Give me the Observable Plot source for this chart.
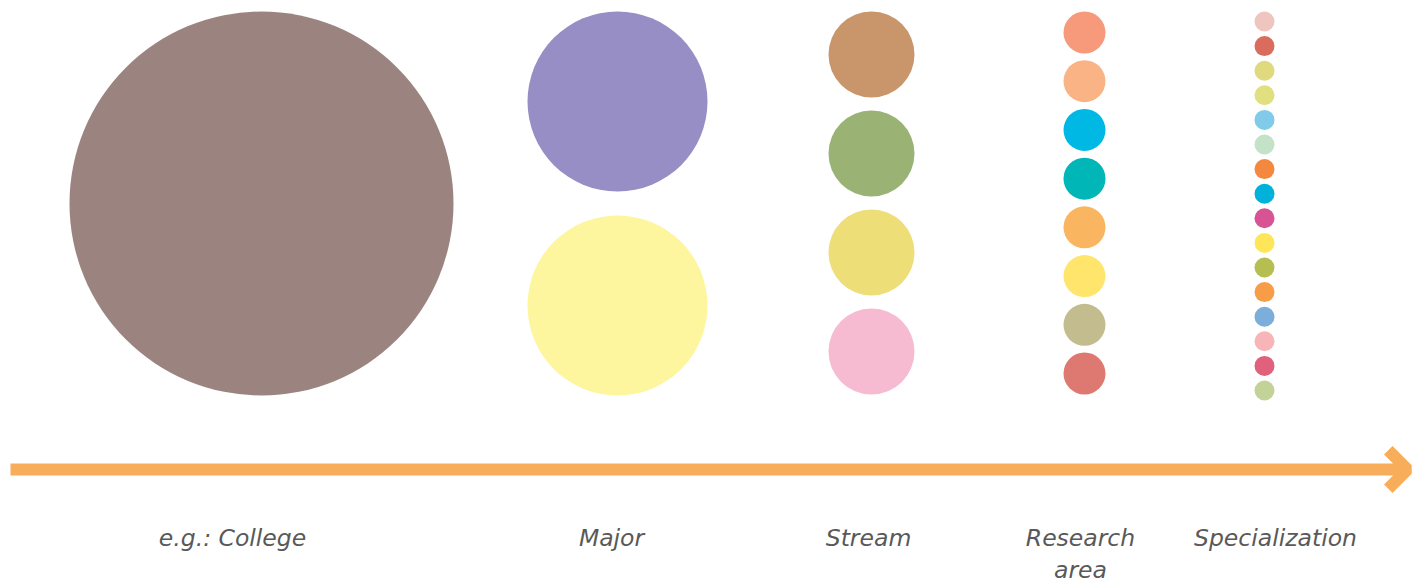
<!DOCTYPE html>
<html>
<head>
<meta charset="utf-8">
<script src="https://cdn.jsdelivr.net/npm/d3@7"></script>
<script src="https://cdn.jsdelivr.net/npm/@observablehq/plot@0.6"></script>
<style>
  html, body { margin: 0; padding: 0; background: #ffffff; }
  #chart { width: 1414px; height: 579px; }
</style>
</head>
<body>
<div id="chart"></div>
<script>
// ---- data ----
const levels = ["e.g.: College", "Major", "Stream", "Research\narea", "Specialization"];
const counts = [1, 2, 4, 8, 16];
const collegeColors = ["#9b8480"];
const majorColors = ["#968ec4", "#fdf69e"];
const streamColors = ["#c9956a", "#9ab375", "#eede77", "#f6bbd0"];
const researchColors = ["#f69a7b", "#fab384", "#00b8e4", "#00b6b6", "#fab561", "#ffe56c", "#c2bc8f", "#dd7971"];
const specializationColors = ["#eec5bf", "#d96c5d", "#dfda7e", "#e0e080", "#7fcbe9", "#c3e2c8", "#f5883f", "#00b2d9",
                              "#d85394", "#ffe55a", "#b6be52", "#f89d47", "#7baeda", "#f8b5b8", "#e0617c", "#c3d398"];
const levelColors = [collegeColors, majorColors, streamColors, researchColors, specializationColors];

// ---- layout (not data) ----
const columnX = [261, 617, 871, 1084, 1264];
const labelX = [232, 611, 868, 1080, 1275];
const radii = [192, 90, 43, 21, 10];
const bandTop = 11, bandBottom = [395, 395, 394, 394, 400];
const labelY = 523;
const arrowY = 469;

const nodes = [];
levels.forEach((lv, li) => {
  const n = counts[li], r = radii[li];
  const y0 = bandTop + r, y1 = bandBottom[li] - r;
  for (let i = 0; i < n; i++) {
    nodes.push({
      level: lv,
      x: columnX[li],
      y: n === 1 ? (y0 + y1) / 2 : y0 + (y1 - y0) * i / (n - 1),
      r,
      color: levelColors[li][i]
    });
  }
});
const labels = levels.map((lv, li) => ({label: lv, x: labelX[li], y: labelY}));

const chart = Plot.plot({
  width: 1414,
  height: 579,
  margin: 0,
  x: {type: "linear", domain: [0, 1414], range: [0, 1414], axis: null},
  y: {type: "linear", domain: [0, 579], range: [0, 579], axis: null},
  r: {type: "identity"},
  style: {background: "#ffffff"},
  marks: [
    Plot.dot(nodes, {x: "x", y: "y", r: "r", fill: "color", stroke: null}),
    Plot.arrow([{x1: 10, x2: 1407, y: arrowY}], {
      x1: "x1", x2: "x2", y1: "y", y2: "y",
      stroke: "#f8ad5a", strokeWidth: 12,
      headLength: 3.4, headAngle: 90,
      strokeLinecap: "butt", strokeLinejoin: "miter"
    }),
    Plot.text(labels, {
      x: "x", y: "y", text: "label",
      fontSize: 23.5, fontStyle: "italic",
      fontFamily: "DejaVu Sans, Verdana, sans-serif",
      fill: "#595959", lineAnchor: "top", lineHeight: 1.36,
      textAnchor: "middle"
    })
  ]
});
document.getElementById("chart").appendChild(chart);
</script>
</body>
</html>
